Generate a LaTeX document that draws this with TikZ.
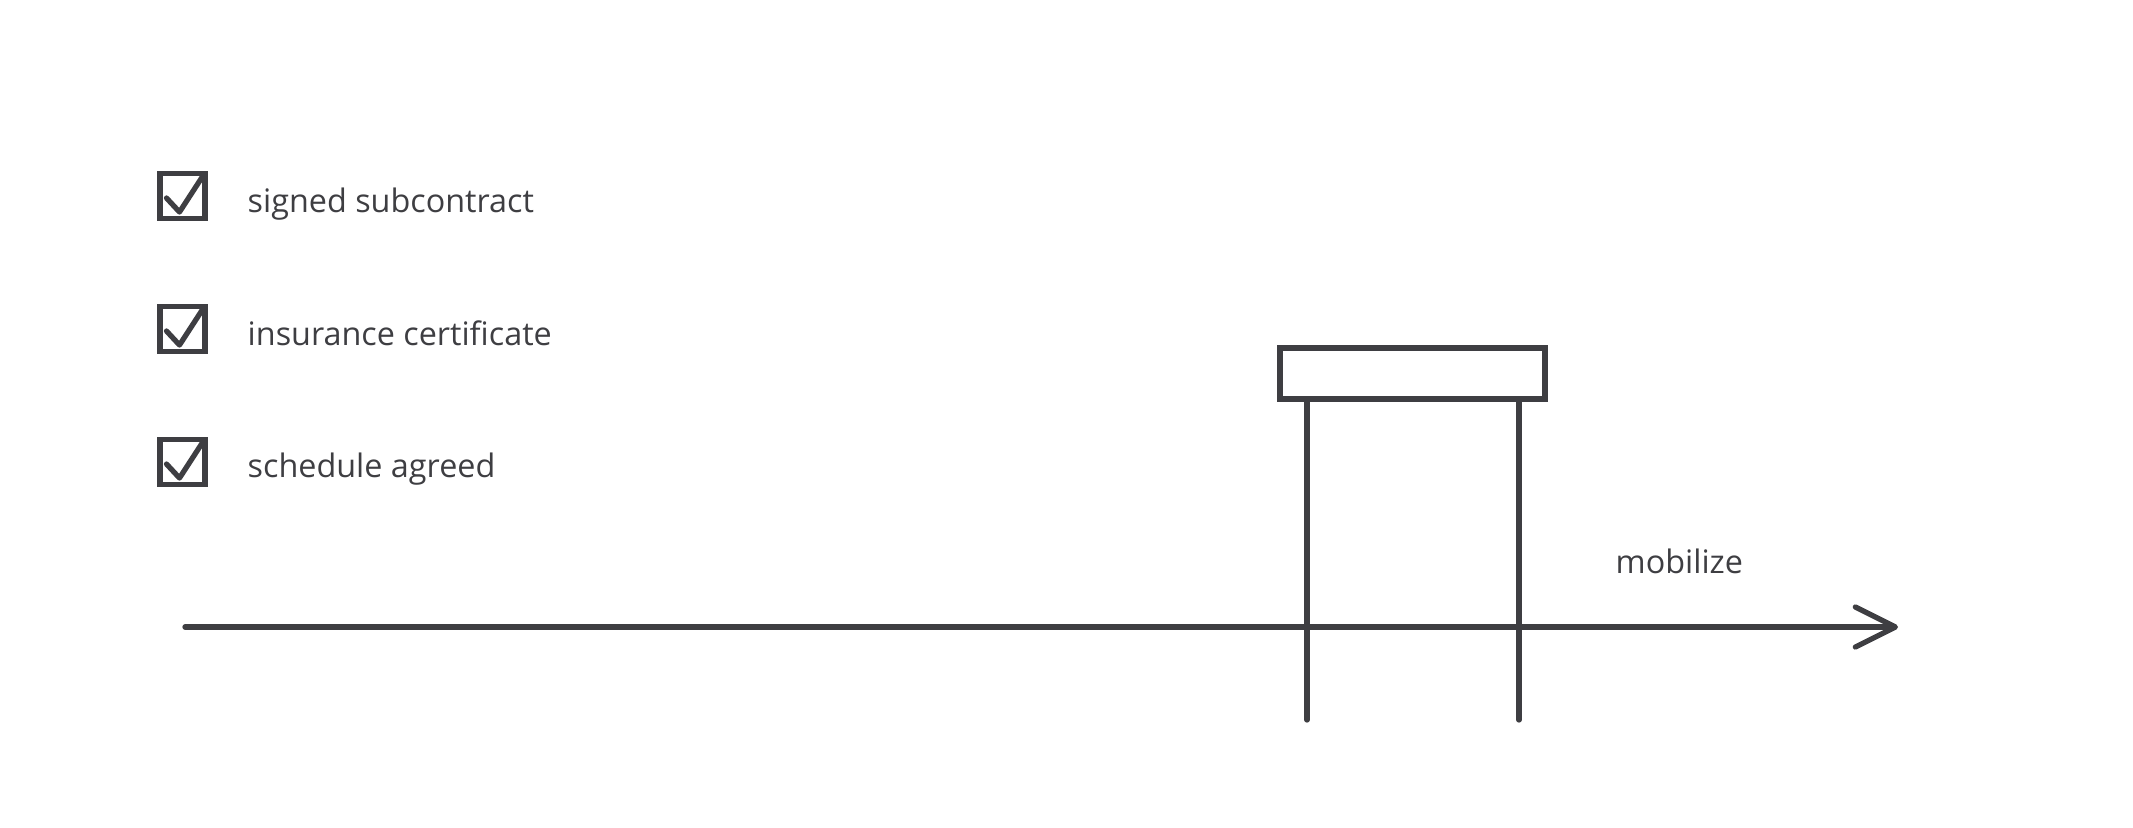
\documentclass[tikz,border=0pt]{standalone}
\usepackage{fontspec}
\setmainfont{Open Sans}
\usetikzlibrary{arrows.meta}
\definecolor{ink}{RGB}{62,62,66}
\begin{document}
\begin{tikzpicture}[x=0.01cm, y=-0.01cm, font=\fontsize{9.2}{11}\selectfont]
\tikzstyle{edge} = [draw=ink, line width=1.5pt, line cap=round, line join=round]
\tikzstyle{checkbox} = [rectangle, draw=ink, line width=1.5pt, minimum size=0.45cm, inner sep=0pt,
  path picture={\draw[edge] ([shift={(-0.16cm,-0.02cm)}]path picture bounding box.center)
    -- ++(0.13cm,-0.14cm) -- ++(0.24cm,0.37cm);}]
\tikzstyle{label} = [text=ink, anchor=base west, inner sep=0pt]
\tikzstyle{gatebox} = [rectangle, draw=ink, line width=1.5pt, minimum width=2.65cm, minimum height=0.51cm]

\useasboundingbox (0,0) rectangle (2133,827);

\node[checkbox] (c1) at (182.5,196) {};
\node[checkbox] (c2) at (182.5,329) {};
\node[checkbox] (c3) at (182.5,462) {};
\node[label] (t1) at (247,212) {signed subcontract};
\node[label] (t2) at (247,345) {insurance certificate};
\node[label] (t3) at (247,477) {schedule agreed};

\node[gatebox] (gate) at (1412.5,373.5) {};
\coordinate (lfoot) at (1307,720);
\coordinate (rfoot) at (1519,720);

\coordinate (tstart) at (185,627);
\coordinate (tend) at (1898,627);
\node[label] (mob) at (1615,573) {mobilize};

\draw[edge, -{Straight Barb[length=0.4cm, width=0.4cm, line cap=round, line join=round]}] (tstart) -- (tend);
\draw[edge] (gate.south -| lfoot) -- (lfoot);
\draw[edge] (gate.south -| rfoot) -- (rfoot);
\end{tikzpicture}
\end{document}
